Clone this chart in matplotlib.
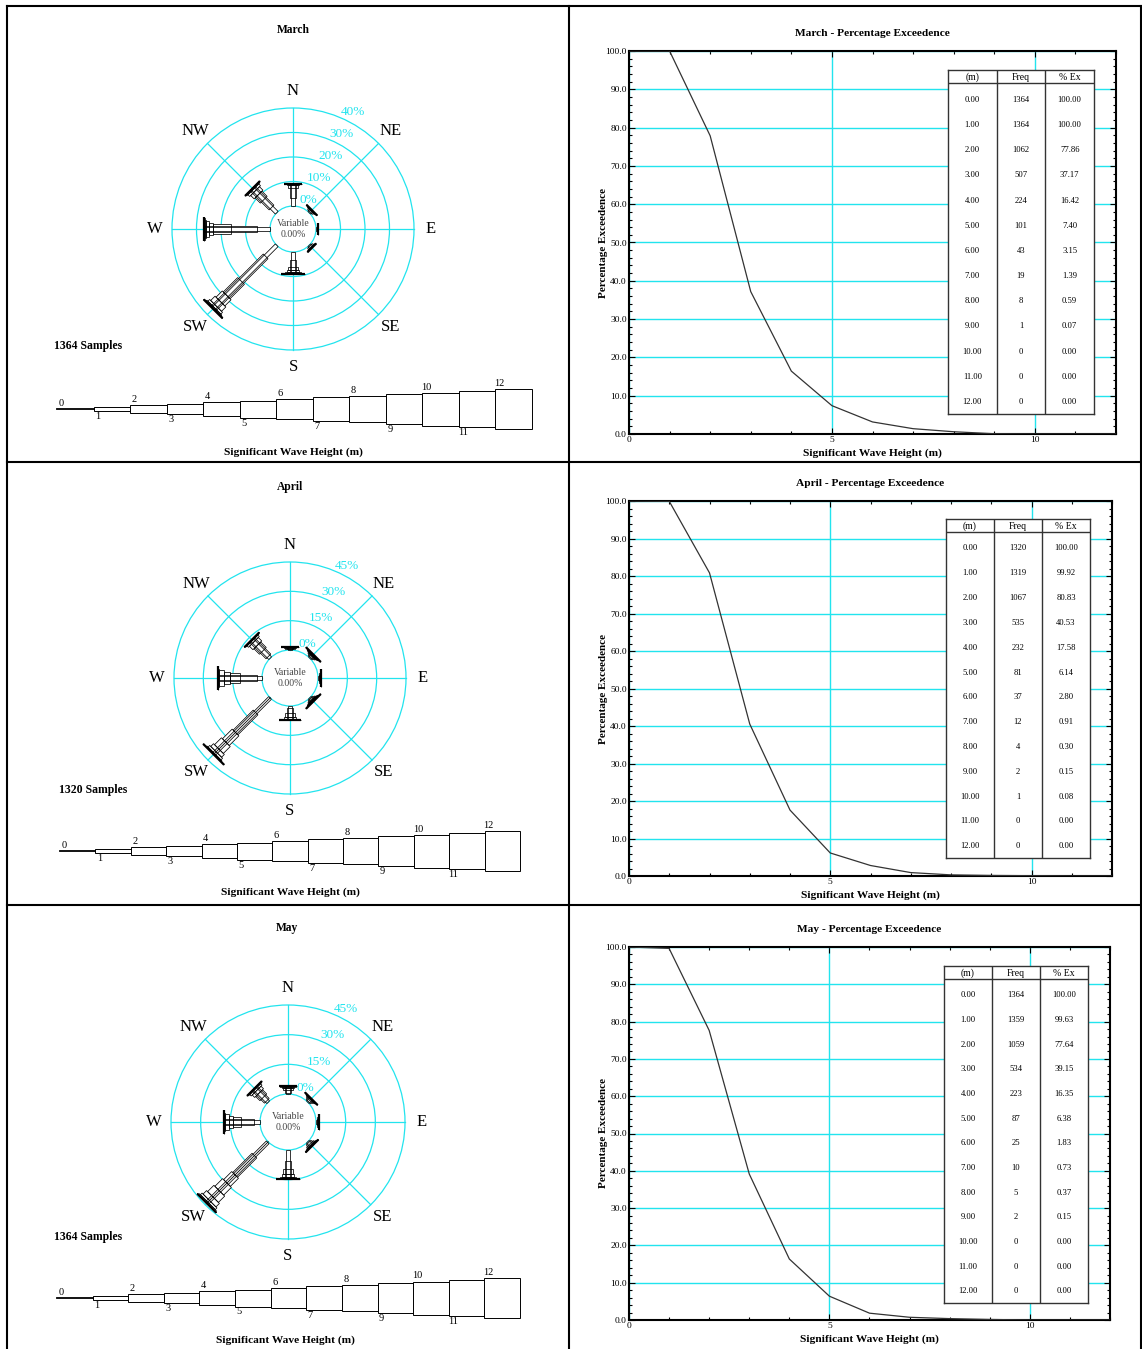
import numpy as np
import matplotlib.pyplot as plt
from matplotlib.patches import Polygon, Circle, Rectangle

plt.rcParams['font.family'] = ['Liberation Serif', 'DejaVu Serif']

# ---------------- data ----------------
months = ['March', 'April', 'May']
samples = [1364, 1320, 1364]
directions = ['N', 'NE', 'E', 'SE', 'S', 'SW', 'W', 'NW']
ring_pcts = [[0, 10, 20, 30, 40], [0, 15, 30, 45], [0, 15, 30, 45]]
height_m = [0, 1, 2, 3, 4, 5, 6, 7, 8, 9, 10, 11, 12]

freq_march = [1364, 1364, 1062, 507, 224, 101, 43, 19, 8, 1, 0, 0, 0]
ex_march = [100.00, 100.00, 77.86, 37.17, 16.42, 7.40, 3.15, 1.39, 0.59, 0.07, 0.00, 0.00, 0.00]
freq_april = [1320, 1319, 1067, 535, 232, 81, 37, 12, 4, 2, 1, 0, 0]
ex_april = [100.00, 99.92, 80.83, 40.53, 17.58, 6.14, 2.80, 0.91, 0.30, 0.15, 0.08, 0.00, 0.00]
freq_may = [1364, 1359, 1059, 534, 223, 87, 25, 10, 5, 2, 0, 0, 0]
ex_may = [100.00, 99.63, 77.64, 39.15, 16.35, 6.38, 1.83, 0.73, 0.37, 0.15, 0.00, 0.00, 0.00]

# % of samples per direction (N..NW) and wave height class (0-1, 1-2, 2-3 ... m)
rose_march = [
    [0, 3.2, 4.2, 1.0, 0.4, 0.2, 0.1, 0, 0, 0, 0],
    [0, 0.4, 0.5, 0.3, 0.2, 0.1, 0, 0, 0, 0, 0],
    [0, 0.3, 0.4, 0.2, 0.1, 0, 0, 0, 0, 0, 0],
    [0, 0.4, 0.6, 0.3, 0.2, 0, 0, 0, 0, 0, 0],
    [0, 3.3, 2.8, 1.4, 0.6, 0.4, 0.2, 0.1, 0.1, 0, 0],
    [0, 6.4, 14.2, 8.3, 3.6, 2.5, 1.0, 0.4, 0.25, 0.07, 0],
    [0, 5.5, 10.4, 7.2, 1.8, 1.4, 0.4, 0.2, 0.15, 0, 0],
    [0, 3.0, 4.5, 3.0, 2.0, 1.0, 0.4, 0.1, 0, 0, 0],
]
rose_april = [
    [0, 0.3, 0.4, 0.4, 0.3, 0.2, 0.1, 0, 0, 0, 0],
    [0, 0.5, 0.6, 0.5, 0.4, 0.3, 0.2, 0.1, 0, 0, 0],
    [0, 0.3, 0.4, 0.3, 0.2, 0.2, 0.1, 0, 0, 0, 0],
    [0, 0.5, 0.6, 0.5, 0.4, 0.3, 0.2, 0.1, 0, 0, 0],
    [0, 1.2, 2.5, 1.7, 1.0, 0.4, 0.2, 0.1, 0, 0, 0],
    [0.08, 10.5, 14.5, 7.0, 5.0, 2.0, 1.2, 0.4, 0.1, 0.05, 0.08],
    [0, 2.7, 8.7, 5.0, 3.0, 2.5, 0.5, 0.2, 0.05, 0, 0],
    [0, 1.3, 4.0, 4.0, 2.5, 1.0, 0.4, 0.1, 0, 0, 0],
]
rose_may = [
    [0, 0.5, 1.5, 1.2, 0.5, 0.3, 0.1, 0, 0, 0, 0],
    [0, 0.5, 0.8, 0.6, 0.3, 0.2, 0.1, 0, 0, 0, 0],
    [0, 0.3, 0.4, 0.4, 0.2, 0.1, 0, 0, 0, 0, 0],
    [0, 0.6, 0.9, 0.7, 0.4, 0.3, 0.1, 0, 0, 0, 0],
    [0, 5.5, 4.2, 2.5, 1.3, 0.6, 0.3, 0.1, 0.1, 0, 0],
    [0.37, 9.5, 13.8, 5.8, 5.5, 4.5, 2.5, 1.2, 0.6, 0.15, 0],
    [0, 3.0, 6.7, 4.2, 2.0, 1.7, 0.5, 0.2, 0.1, 0, 0],
    [0, 1.0, 2.5, 3.0, 1.8, 1.0, 0.4, 0.1, 0, 0, 0],
]

freqs = [freq_march, freq_april, freq_may]
exceed = [ex_march, ex_april, ex_may]
roses = [rose_march, rose_april, rose_may]

# ---------------- layout (pixels) ----------------
W, H = 1142, 1349
CYAN = '#22e4ee'
rose_center = [(293, 229), (290, 678), (288, 1122)]
rose_r0 = [23, 28, 28]
rose_rout = [121, 116, 117]
title_xy = [(293, 30), (290, 487), (287, 928)]
samples_xy = [(54, 346), (59, 790), (54, 1237)]
legend_pos = [(57, 532, 409), (60, 520, 851), (57, 520, 1298)]
wlabel_xy = [(293, 452), (290, 892), (285, 1340)]
chart_box = [(629, 51, 1116, 434), (629, 501, 1112, 876), (629, 947, 1110, 1320)]
table_box = [(948, 70, 1094, 414), (946, 519, 1090, 858), (944, 966, 1088, 1303)]
leg_h = [0] + [3.2 * k + 1 for k in range(1, 13)]
BAR_F = 0.9

fig = plt.figure(figsize=(W / 100, H / 100), dpi=100)
ov = fig.add_axes([0, 0, 1, 1])
ov.set_xlim(0, W)
ov.set_ylim(H, 0)
ov.axis('off')


def px_axes(x0, y0, x1, y1, **kw):
    return fig.add_axes([x0 / W, 1 - y1 / H, (x1 - x0) / W, (y1 - y0) / H], **kw)


# panel borders
for x in [7, 569, 1141]:
    ov.plot([x, x], [6, H], color='black', lw=1.5)
for y in [6, 462, 905]:
    ov.plot([7, 1141], [y, y], color='black', lw=1.5)


def rect_poly(cx, cy, u, v, a, b, hw):
    return [(cx + u[0] * a + v[0] * hw, cy + u[1] * a + v[1] * hw),
            (cx + u[0] * b + v[0] * hw, cy + u[1] * b + v[1] * hw),
            (cx + u[0] * b - v[0] * hw, cy + u[1] * b - v[1] * hw),
            (cx + u[0] * a - v[0] * hw, cy + u[1] * a - v[1] * hw)]


for m in range(3):
    cx, cy = rose_center[m]
    r0, R = rose_r0[m], rose_rout[m]
    rings = ring_pcts[m]
    sc = (R - r0) / rings[-1]

    ov.text(*title_xy[m], months[m], ha='center', va='center', fontsize=8.3, fontweight='bold')
    ov.text(*samples_xy[m], f'{samples[m]} Samples', ha='left', va='center', fontsize=8.5, fontweight='bold')
    ov.text(*wlabel_xy[m], 'Significant Wave Height (m)', ha='center', va='center',
            fontsize=8.2, fontweight='bold')

    # rings and spokes
    for p in rings:
        ov.add_patch(Circle((cx, cy), r0 + p * sc, fill=False, ec=CYAN, lw=0.9))
    ang = np.deg2rad(27)
    for p in rings:
        rr = r0 + p * sc + 10
        ov.text(cx + rr * np.sin(ang), cy - rr * np.cos(ang), f'{p}%', color=CYAN,
                fontsize=9.5, ha='center', va='center')
    for i, d in enumerate(directions):
        th = np.deg2rad(45 * i)
        u = (np.sin(th), -np.cos(th))
        ov.plot([cx + r0 * u[0], cx + R * u[0]], [cy + r0 * u[1], cy + R * u[1]], color=CYAN, lw=0.9)
        ov.text(cx + (R + 17) * u[0], cy + (R + 17) * u[1], d, ha='center', va='center', fontsize=12)
    ov.text(cx, cy, 'Variable\n0.00%', ha='center', va='center', fontsize=7,
            color='#444444', linespacing=1.15)

    # bars
    for i, vals in enumerate(roses[m]):
        th = np.deg2rad(45 * i)
        u = (np.sin(th), -np.cos(th))
        v = (np.cos(th), np.sin(th))
        tip = r0 + sum(vals) * sc
        cum = 0
        segs = []
        for k, p in enumerate(vals):
            if p <= 0:
                continue
            a = r0 + cum * sc
            b = a + p * sc
            segs.append((k, a, b))
            cum += p
        for k, a, b in segs:
            hw = leg_h[k] * BAR_F / 2
            ov.add_patch(Polygon(rect_poly(cx, cy, u, v, a, b, hw), closed=True,
                                 fc='white', ec='none', zorder=3))
        for n, (k, a, b) in enumerate(segs):
            hw = leg_h[k] * BAR_F / 2
            end = tip if n < 2 else b
            if hw == 0:
                ov.plot([cx + u[0] * a, cx + u[0] * end], [cy + u[1] * a, cy + u[1] * end],
                        color='black', lw=0.6, zorder=4)
            else:
                ov.add_patch(Polygon(rect_poly(cx, cy, u, v, a, end, hw), closed=True,
                                     fill=False, ec='black', lw=0.55, zorder=4))
        # heavy end line across the tip
        hw = leg_h[segs[-1][0]] * BAR_F / 2
        ov.plot([cx + u[0] * tip + v[0] * hw, cx + u[0] * tip - v[0] * hw],
                [cy + u[1] * tip + v[1] * hw, cy + u[1] * tip - v[1] * hw],
                color='black', lw=1.6, zorder=5, solid_capstyle='butt')

    # wave height key
    x0, x1, base = legend_pos[m]
    L = (x1 - x0) / 13
    for k in range(13):
        xs = x0 + k * L
        if k == 0:
            ov.plot([xs, xs + L], [base, base], color='black', lw=1.3)
        else:
            ov.add_patch(Rectangle((xs, base - leg_h[k] / 2), L, leg_h[k], fc='white',
                                   ec='black', lw=0.7))
        if k % 2 == 0:
            ov.text(xs + 4, base - leg_h[k] / 2 - 1, str(k), ha='center', va='bottom', fontsize=7.5)
        else:
            ov.text(xs + 4, base + leg_h[k] / 2 + 1, str(k), ha='center', va='top', fontsize=7.5)

    # exceedence chart
    bx0, by0, bx1, by1 = chart_box[m]
    ax = px_axes(bx0, by0, bx1, by1)
    ax.plot(height_m, exceed[m], color='#333333', lw=0.9, zorder=3)
    ax.set_xlim(0, 12)
    ax.set_ylim(0, 100)
    ax.set_xticks([0, 5, 10])
    ax.set_xticks(height_m, minor=True)
    ax.set_yticks(np.arange(0, 101, 10))
    ax.set_yticks(np.arange(0, 101, 2), minor=True)
    ax.set_yticklabels([f'{t:.1f}' for t in np.arange(0, 101, 10)])
    ax.tick_params(which='both', direction='in', top=True, right=True, labelsize=6.8, width=0.8)
    ax.tick_params(which='major', length=4, pad=1.5)
    ax.tick_params(which='minor', length=2.5)
    ax.grid(True, which='major', color=CYAN, lw=1.0)
    ax.set_axisbelow(True)
    for s in ax.spines.values():
        s.set_linewidth(1.5)
    ov.text((bx0 + bx1) / 2, by0 - 17, f'{months[m]} - Percentage Exceedence', ha='center',
            va='center', fontsize=8.2, fontweight='bold')
    ov.text((bx0 + bx1) / 2, by1 + 19, 'Significant Wave Height (m)', ha='center',
            va='center', fontsize=8.2, fontweight='bold')
    ov.text(bx0 - 25, (by0 + by1) / 2, 'Percentage Exceedence', ha='center', va='center',
            rotation=90, fontsize=8, fontweight='bold')

    # table
    tx0, ty0, tx1, ty1 = table_box[m]
    tb = px_axes(tx0, ty0, tx1, ty1, facecolor='white', zorder=5)
    tb.set_xlim(0, 3)
    tb.set_ylim(1, 0)
    tb.set_xticks([])
    tb.set_yticks([])
    for s in tb.spines.values():
        s.set_linewidth(1.0)
        s.set_color('#333333')
    hdr = 13 / (ty1 - ty0)
    tb.plot([0, 3], [hdr, hdr], color='#333333', lw=1.0)
    for xc in [1, 2]:
        tb.plot([xc, xc], [0, 1], color='#333333', lw=1.0)
    for j, t in enumerate(['(m)', 'Freq', '% Ex']):
        tb.text(j + 0.5, hdr / 2 + 0.002, t, ha='center', va='center', fontsize=7)
    row_y = np.linspace(0.087, 0.965, 13)
    for r in range(13):
        tb.text(0.5, row_y[r], f'{height_m[r]:.2f}', ha='center', va='center', fontsize=6.2)
        tb.text(1.5, row_y[r], f'{freqs[m][r]}', ha='center', va='center', fontsize=6.2)
        tb.text(2.5, row_y[r], f'{exceed[m][r]:.2f}', ha='center', va='center', fontsize=6.2)

fig.savefig('out.png', dpi=100)
